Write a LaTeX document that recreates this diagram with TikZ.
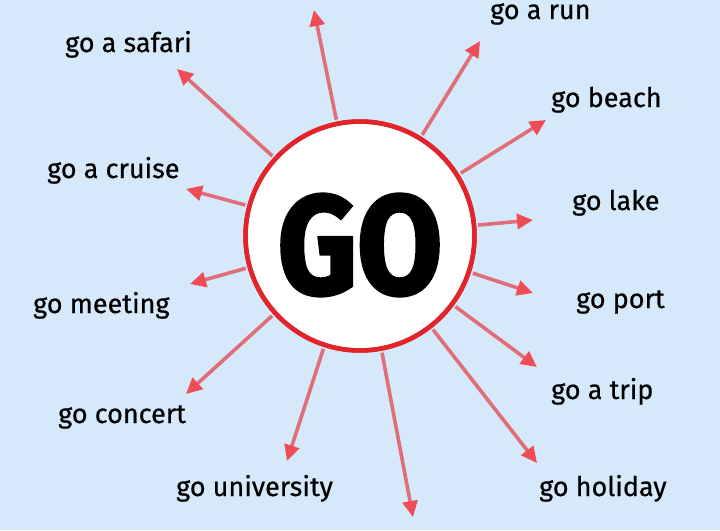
\documentclass[tikz,border=0pt]{standalone}
\usepackage{fontspec}
\setmainfont{Fira Sans}
\newfontfamily\gofont[BoldFeatures={FakeBold=2.5}]{Fira Sans}
\newfontfamily\wordfont[FakeBold=0.6]{Fira Sans}
\usetikzlibrary{arrows.meta}
\definecolor{bgblue}{RGB}{214,233,250}
\definecolor{ringred}{RGB}{226,36,43}
\definecolor{rayred}{RGB}{224,110,120}
\definecolor{tipred}{RGB}{240,76,86}
\begin{document}
\begin{tikzpicture}[x=1pt,y=-1pt,
  ray/.style={draw=rayred,line width=3.6pt,shorten <=2pt,-{Triangle[length=16pt,width=15pt,color=tipred]}},
  word/.style={anchor=base west,inner sep=0pt,font=\fontsize{27}{27}\wordfont}]
  \fill[bgblue] (0,0) rectangle (720,530); \useasboundingbox (0,0) rectangle (720,530);
  % centre ring
  \node[circle,draw=ringred,line width=4.5pt,fill=white,minimum size=229pt,inner sep=0pt] (go) at (360,236) {};
  % rays, clockwise from the top
  \foreach \x/\y [count=\i] in {314/10,480/41,546/120,533/220,533/293,537/367,537/463,413/517,287/461,186/394,190/284,186/189,177/69}
    {\coordinate (tip\i) at (\x,\y); \draw[ray] (go) -- (tip\i);}
  \node[circle,draw=ringred,line width=4.5pt,minimum size=229pt,inner sep=0pt] (ring) at (go) {};
  \node[font=\fontsize{140}{140}\gofont\bfseries,xscale=0.88,inner sep=0pt] (goword) at (360,245) {GO};
  % phrases
  \foreach \x/\y/\t [count=\i] in {65/52/go a safari,490/19/go a run,551/107/go beach,47/178/go a cruise,572/210/go lake,33/313/go meeting,576/308/go port,551/399/go a trip,58/423/go concert,176/496/go university,539/496/go holiday}
    \node[word] (w\i) at (\x,\y) {\t};
\end{tikzpicture}
\end{document}
